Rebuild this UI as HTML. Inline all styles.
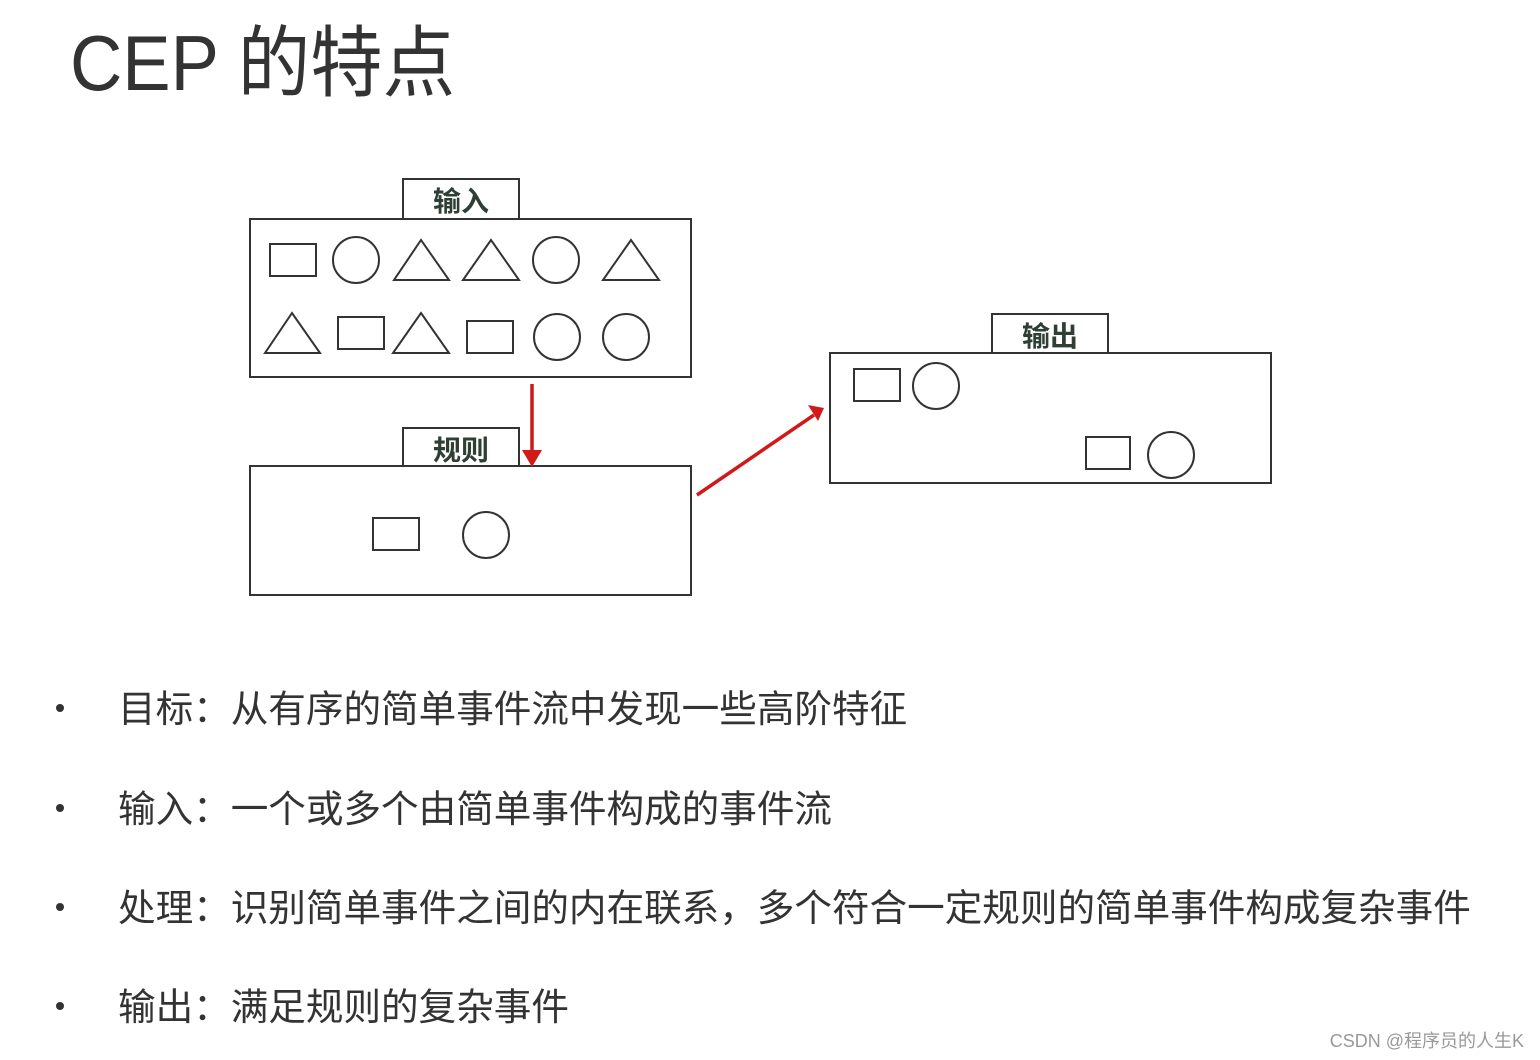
<!DOCTYPE html>
<html><head><meta charset="utf-8"><style>
body{margin:0;background:#fff;width:1540px;height:1060px;overflow:hidden}
svg{position:absolute;left:0;top:0}
.t{font-family:"Liberation Sans","Noto Sans CJK SC",sans-serif}
</style></head><body>
<svg width="1540" height="1060" xmlns="http://www.w3.org/2000/svg">
<text x="70" y="90" class="t" font-size="78" fill="#333" textLength="385" lengthAdjust="spacingAndGlyphs">CEP 的特点</text>
<g fill="none" stroke="#333" stroke-width="2">
<rect x="250" y="219" width="441" height="158"/>
<rect x="403" y="179" width="116" height="40"/>
<rect x="250" y="466" width="441" height="129"/>
<rect x="403" y="428" width="116" height="38"/>
<rect x="830" y="353" width="441" height="130"/>
<rect x="992" y="314" width="116" height="39"/>
<rect x="270" y="244" width="46" height="32"/>
<circle cx="356" cy="260" r="23"/>
<polygon points="394,280 449,280 421,240"/>
<polygon points="463,280 519,280 491,240"/>
<circle cx="556" cy="260" r="23"/>
<polygon points="603,280 659,280 631,240"/>
<polygon points="265,353 320,353 292,313"/>
<rect x="338" y="317" width="46" height="32"/>
<polygon points="393,353 449,353 421,313"/>
<rect x="467" y="321" width="46" height="32"/>
<circle cx="557" cy="337" r="23"/>
<circle cx="626" cy="337" r="23"/>
<rect x="373" y="518" width="46" height="32"/>
<circle cx="486" cy="535" r="23"/>
<rect x="854" y="369" width="46" height="32"/>
<circle cx="936" cy="386" r="23"/>
<rect x="1086" y="437" width="44" height="32"/>
<circle cx="1171" cy="455" r="23"/>
</g>
<g class="t" font-size="28" font-weight="bold" fill="#2f3f33" text-anchor="middle">
<text x="461" y="211">输入</text>
<text x="461" y="460">规则</text>
<text x="1050" y="346">输出</text>
</g>
<g stroke="#d01a1a" stroke-width="3.5" fill="#d01a1a">
<line x1="532" y1="384" x2="532" y2="455"/>
<polygon points="522,450 542,450 532,467" stroke="none"/>
<line x1="697" y1="495" x2="814" y2="415"/>
<polygon points="808,405 824,408 818,421" stroke="none"/>
</g>
<g class="t" font-size="37.6" fill="#333">
<circle cx="60" cy="708" r="4"/><text x="118" y="722">目标：从有序的简单事件流中发现一些高阶特征</text>
<circle cx="60" cy="808" r="4"/><text x="118" y="822">输入：一个或多个由简单事件构成的事件流</text>
<circle cx="60" cy="907" r="4"/><text x="118" y="921">处理：识别简单事件之间的内在联系，多个符合一定规则的简单事件构成复杂事件</text>
<circle cx="60" cy="1006" r="4"/><text x="118" y="1020">输出：满足规则的复杂事件</text>
</g>
<text x="1524" y="1047" class="t" font-size="18" fill="#999" text-anchor="end">CSDN @程序员的人生K</text>
</svg>
</body></html>
